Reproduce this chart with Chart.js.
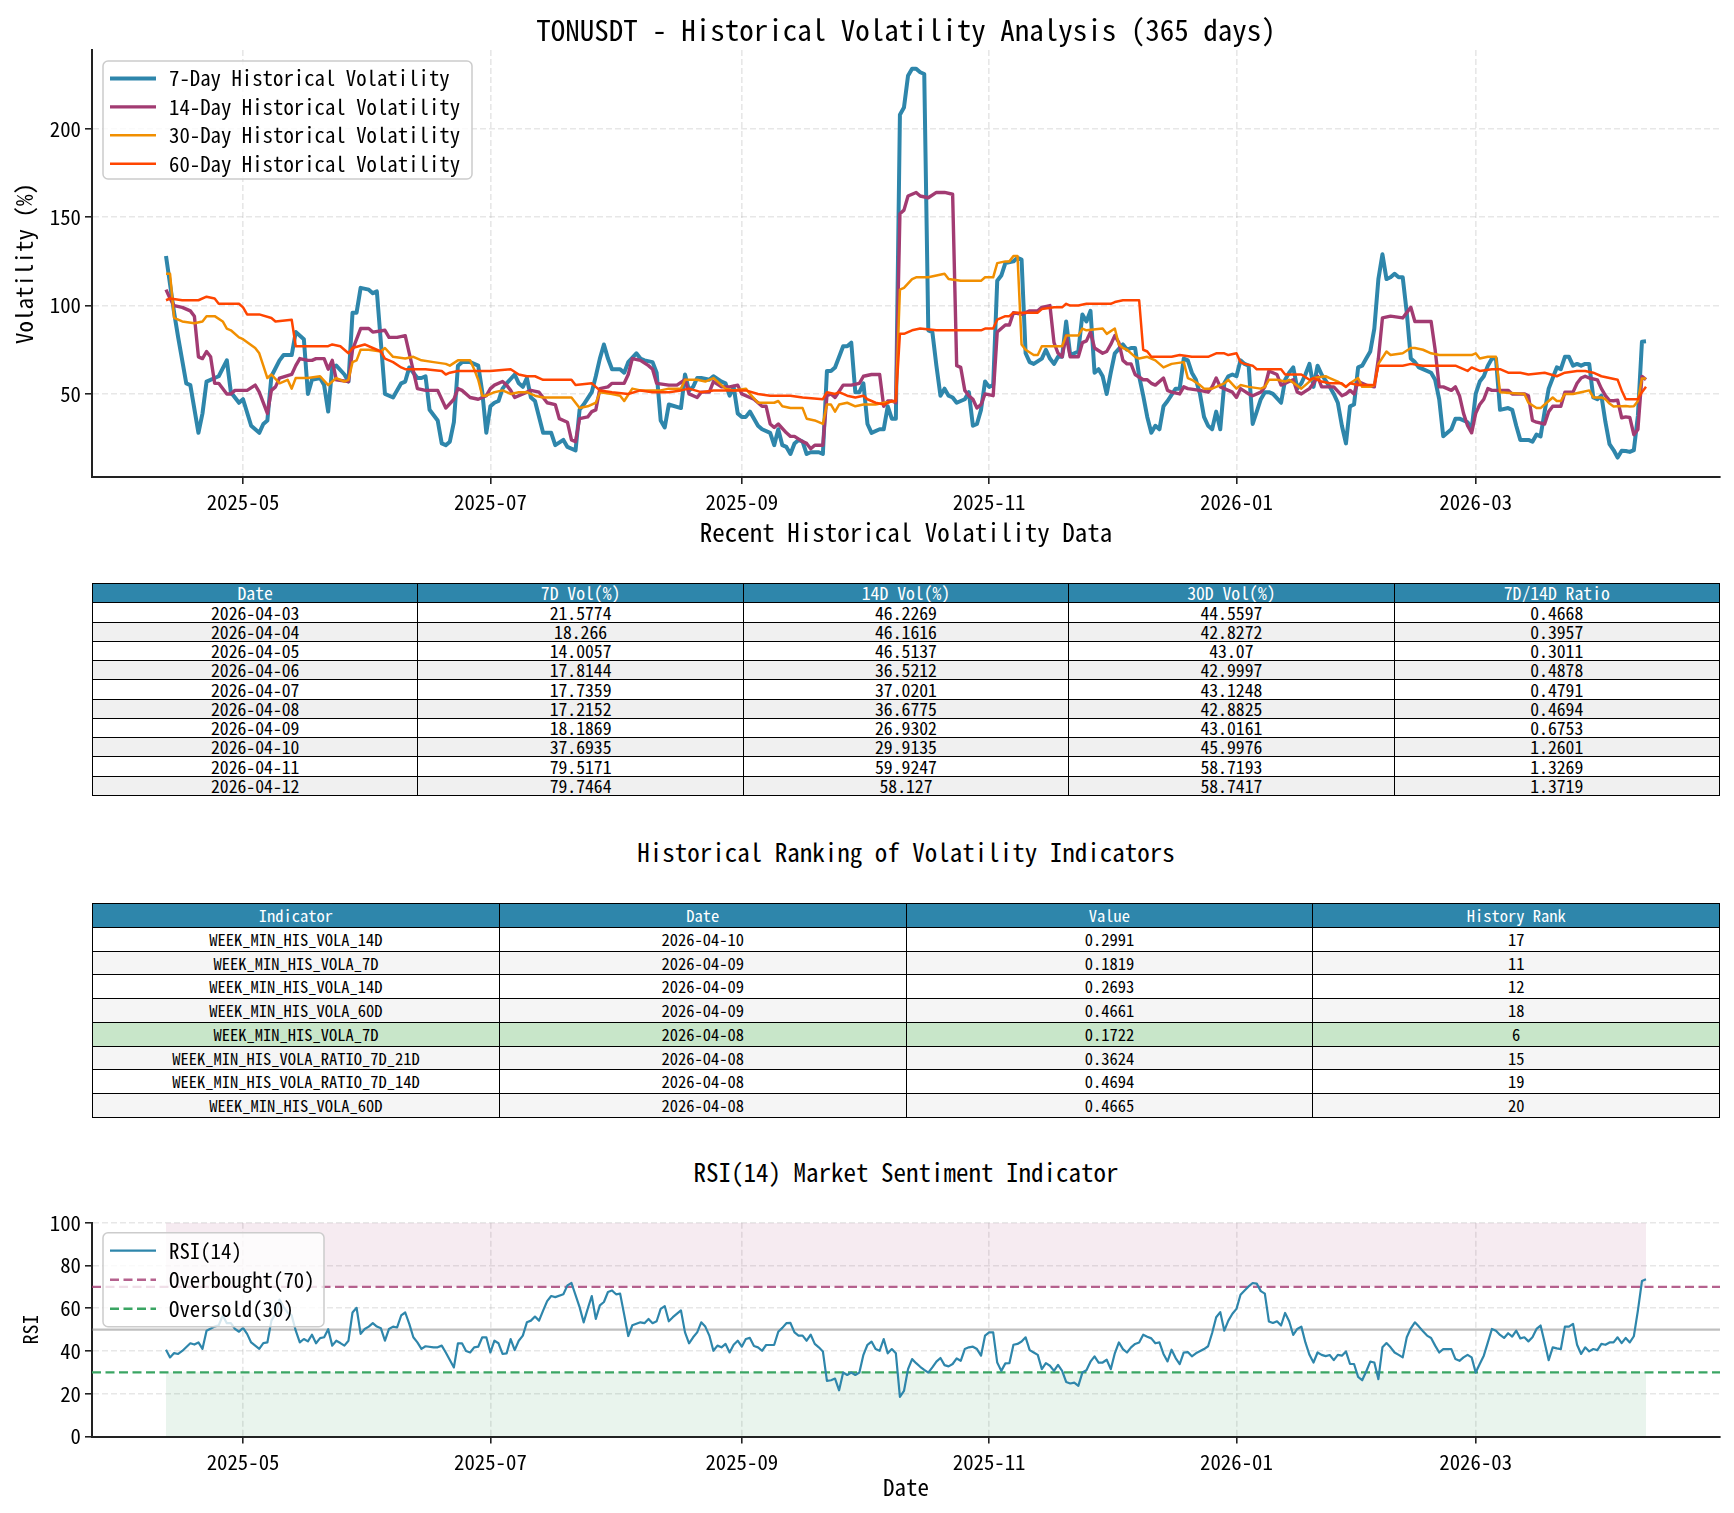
<!DOCTYPE html>
<html>
<head>
<meta charset="utf-8">
<script src="https://cdn.jsdelivr.net/npm/chart.js@4.4.1/dist/chart.umd.min.js"></script>
<style>
  html, body { margin: 0; padding: 0; background: #fff; }
  body { width: 1734px; height: 1513px; position: relative; overflow: hidden; }
  canvas { position: absolute; left: 0; }
  .ttl { position: absolute; left: 92px; width: 1628px; text-align: center; color: #000; white-space: nowrap; }
  table { position: absolute; left: 92px; width: 1628px; border-collapse: collapse; table-layout: fixed; }
  td { border: 1.5px solid #000; padding: 0; text-align: center; white-space: nowrap; overflow: hidden; line-height: 1; }
</style>
</head>
<body>
<canvas id="volChart" width="1734" height="540" style="top:0"></canvas>
<canvas id="rsiChart" width="1734" height="323" style="top:1190px"></canvas>
<div class="ttl" id="mainTitle">TONUSDT - Historical Volatility Analysis (365 days)</div>
<div class="ttl" id="recentTitle">Recent Historical Volatility Data</div>
<div class="ttl" id="rankTitle">Historical Ranking of Volatility Indicators</div>
<div class="ttl" id="rsiTitle">RSI(14) Market Sentiment Indicator</div>
<table id="recentTable"></table>
<table id="rankTable"></table>
<script>
'use strict';
// day 0 of every series below
var startDate = '2025-04-12';
var lastDay = 365;

var tickDates = ['2025-05-01', '2025-07-01', '2025-09-01', '2025-11-01', '2026-01-01', '2026-03-01'];
var tickLabels = ['2025-05', '2025-07', '2025-09', '2025-11', '2026-01', '2026-03'];
var volTicks = [50, 100, 150, 200];
var rsiTicks = [0, 20, 40, 60, 80, 100];

// [day, value]; the last ten days come from the table below
var vol7 = [[0,128],[2,96],[3,82],[5,56],[6,55],[8,28],[9,39],[10,57],[12,59],[13,60],[15,69],[16,51],[18,45],[19,47],[21,32],[23,28],[24,33],[25,35],[26,60],[28,69],[29,72],[31,72],[32,85],[34,81],[35,50],[36,58],[38,59],[39,55],[40,40],[41,65],[42,66],[44,61],[45,57],[46,96],[47,96],[48,110],[50,109],[51,107],[52,108],[53,79],[54,50],[56,48],[58,56],[59,57],[60,65],[62,59],[63,59],[64,60],[65,41],[67,35],[68,22],[69,21],[70,23],[71,34],[72,66],[73,68],[75,68],[77,66],[78,51],[79,28],[80,43],[81,45],[82,46],[83,53],[84,56],[86,61],[87,56],[88,54],[89,59],[90,48],[91,46],[93,28],[95,28],[96,21],[98,24],[99,20],[101,18],[102,41],[103,44],[105,51],[106,60],[107,70],[108,78],[109,70],[110,64],[112,64],[113,62],[114,68],[116,73],[117,70],[118,69],[120,68],[121,62],[122,35],[123,31],[124,44],[127,42],[128,61],[129,52],[130,54],[131,59],[132,59],[134,58],[135,60],[137,57],[138,56],[139,49],[140,54],[141,39],[142,37],[143,37],[144,40],[146,32],[147,30],[149,28],[150,21],[151,30],[152,21],[153,20],[154,16],[155,22],[156,24],[157,23],[158,16],[159,17],[161,17],[162,16],[163,63],[164,63],[165,65],[167,77],[168,77],[169,79],[170,51],[171,51],[172,56],[173,33],[174,28],[176,30],[177,30],[178,43],[179,36],[180,36],[181,208],[182,212],[183,230],[184,234],[185,234],[186,232],[187,231],[188,86],[189,85],[190,66],[191,49],[192,53],[193,49],[194,48],[195,45],[197,47],[198,51],[199,32],[200,33],[201,41],[202,57],[203,54],[204,55],[205,114],[206,117],[207,124],[209,125],[210,127],[211,126],[212,73],[213,68],[214,67],[216,70],[217,75],[218,70],[219,67],[220,71],[221,71],[222,91],[223,72],[224,73],[225,74],[226,95],[227,91],[228,97],[229,62],[230,64],[231,60],[232,50],[233,62],[234,73],[236,78],[237,75],[238,76],[239,76],[240,60],[241,49],[242,37],[243,28],[244,32],[245,30],[246,43],[247,46],[249,53],[250,53],[251,70],[252,69],[253,62],[254,58],[255,50],[256,37],[257,32],[258,30],[259,40],[260,30],[261,56],[262,60],[263,61],[264,60],[265,69],[266,67],[267,66],[268,33],[269,40],[270,47],[271,51],[272,51],[273,50],[275,45],[276,58],[277,62],[278,65],[279,53],[280,56],[281,61],[282,67],[283,54],[284,66],[285,61],[287,54],[288,50],[289,45],[290,32],[291,22],[292,43],[293,44],[294,65],[295,66],[296,70],[297,74],[298,87],[299,115],[300,129],[301,115],[302,116],[303,118],[304,116],[305,116],[306,96],[307,70],[308,68],[309,65],[310,64],[312,62],[313,58],[314,47],[315,26],[316,28],[317,30],[318,36],[319,36],[320,35],[321,34],[322,30],[323,50],[324,57],[325,60],[326,66],[327,70],[328,70],[329,41],[331,42],[332,41],[333,32],[334,24],[336,24],[337,23],[338,27],[339,26],[340,40],[341,53],[342,59],[343,65],[344,64],[345,71],[346,71],[347,66],[348,67],[349,66],[350,67],[351,67],[352,48],[353,47],[354,49],[355,34]];

var vol14 = [[0,109],[1,104],[2,100],[4,99],[6,97],[7,94],[8,71],[9,70],[10,74],[11,71],[12,56],[13,56],[15,50],[16,50],[17,52],[20,52],[22,55],[23,51],[25,39],[26,52],[27,54],[28,59],[31,61],[32,66],[33,70],[35,69],[36,69],[37,70],[39,70],[40,64],[41,69],[42,58],[45,57],[46,75],[48,87],[50,87],[51,85],[54,86],[55,82],[57,82],[59,83],[60,73],[62,53],[64,52],[67,52],[69,42],[71,47],[72,53],[73,52],[75,48],[77,47],[79,49],[80,53],[81,55],[83,57],[84,55],[85,52],[86,48],[88,50],[90,52],[92,51],[94,45],[96,44],[97,36],[99,34],[100,24],[101,23],[102,36],[104,37],[105,40],[106,41],[107,53],[109,54],[110,56],[113,56],[114,61],[115,70],[117,69],[119,66],[120,64],[121,56],[124,55],[126,55],[128,58],[129,50],[131,48],[132,51],[134,51],[135,57],[137,54],[139,54],[141,55],[142,50],[144,48],[145,47],[147,43],[148,43],[149,33],[150,31],[151,33],[153,28],[154,26],[155,26],[157,23],[158,22],[159,19],[160,21],[162,21],[163,49],[164,50],[165,48],[167,55],[169,55],[171,56],[172,60],[174,61],[176,61],[177,43],[178,46],[179,46],[180,45],[181,152],[182,154],[183,162],[185,164],[186,162],[188,161],[190,164],[192,164],[194,163],[195,66],[196,65],[197,52],[198,49],[199,47],[200,42],[201,44],[202,50],[204,49],[205,85],[206,87],[207,89],[208,89],[209,96],[211,95],[213,97],[215,97],[216,99],[218,100],[219,79],[220,73],[221,71],[222,83],[223,71],[225,71],[226,79],[227,80],[228,85],[229,76],[231,73],[232,74],[233,78],[234,83],[235,79],[236,69],[237,67],[238,67],[239,61],[241,58],[242,58],[243,56],[244,55],[246,59],[247,52],[248,51],[250,50],[251,54],[252,53],[255,52],[257,51],[258,54],[259,59],[260,54],[262,52],[263,51],[264,48],[265,53],[267,50],[268,49],[270,51],[271,54],[272,63],[274,61],[275,55],[277,57],[278,58],[279,51],[280,50],[282,53],[283,56],[284,60],[285,54],[288,54],[290,49],[291,50],[292,52],[293,50],[294,57],[295,56],[296,55],[298,54],[299,70],[300,93],[302,94],[305,93],[306,96],[307,99],[308,91],[312,91],[313,75],[314,54],[315,54],[317,52],[318,54],[319,49],[320,39],[321,32],[322,28],[323,39],[324,44],[325,47],[326,53],[327,52],[331,52],[332,50],[335,50],[336,49],[337,35],[338,34],[340,33],[341,40],[342,43],[344,43],[345,51],[347,51],[348,56],[349,59],[350,60],[351,59],[353,58],[354,53],[355,49]];

var vol30 = [[0,118],[1,118],[2,93],[4,91],[7,90],[9,91],[10,94],[12,94],[14,91],[15,87],[16,86],[18,82],[19,81],[22,76],[23,73],[24,66],[25,59],[26,61],[28,56],[30,58],[31,53],[32,59],[35,59],[38,60],[40,55],[41,57],[42,59],[44,57],[45,58],[46,68],[47,69],[48,75],[50,75],[53,74],[54,76],[56,71],[59,70],[61,71],[63,69],[66,68],[69,67],[70,66],[72,69],[75,69],[76,64],[77,58],[78,49],[79,49],[81,51],[83,52],[85,50],[87,51],[89,51],[91,49],[93,48],[100,48],[101,45],[102,42],[104,43],[106,45],[107,51],[110,50],[112,49],[113,46],[115,53],[117,52],[122,52],[124,53],[127,53],[128,58],[131,58],[133,57],[135,59],[137,55],[138,53],[140,52],[143,53],[144,50],[146,45],[150,45],[151,46],[152,43],[154,42],[157,42],[158,36],[160,35],[161,34],[162,33],[163,44],[164,44],[165,40],[166,44],[168,45],[170,43],[172,44],[175,44],[177,45],[180,46],[181,109],[182,110],[184,115],[185,116],[188,116],[190,117],[192,118],[193,115],[196,114],[201,114],[202,116],[204,116],[205,124],[207,125],[208,125],[209,128],[210,128],[211,78],[212,75],[214,72],[215,72],[216,77],[221,77],[222,83],[225,83],[226,87],[227,86],[231,87],[232,84],[234,87],[235,78],[236,76],[237,75],[239,71],[240,70],[242,71],[243,70],[244,69],[246,65],[247,66],[248,67],[251,68],[252,59],[253,58],[255,55],[256,53],[258,53],[260,55],[261,56],[262,58],[264,53],[265,55],[267,54],[270,53],[271,54],[272,58],[274,58],[276,57],[277,58],[280,53],[281,55],[283,59],[286,60],[287,59],[288,58],[289,57],[291,54],[292,56],[294,59],[295,54],[297,54],[298,55],[299,67],[301,74],[302,72],[305,73],[307,76],[308,76],[310,75],[312,73],[314,72],[322,72],[323,73],[324,70],[326,71],[328,71],[329,51],[335,50],[336,45],[338,42],[339,42],[340,44],[342,48],[343,46],[344,46],[345,50],[347,50],[349,51],[351,52],[352,48],[354,48],[355,47]];

var vol60 = [[0,103],[1,104],[4,103],[8,103],[10,105],[12,104],[13,101],[16,101],[18,101],[19,99],[20,95],[23,95],[26,93],[27,91],[31,92],[32,77],[35,77],[40,77],[41,78],[43,77],[45,73],[46,76],[49,78],[51,76],[53,74],[54,70],[56,68],[58,65],[59,64],[64,64],[68,63],[69,61],[70,62],[72,63],[76,63],[80,63],[85,64],[87,61],[89,60],[91,60],[93,58],[97,58],[100,58],[101,55],[105,56],[107,52],[110,51],[114,50],[117,52],[120,51],[124,51],[127,52],[129,53],[132,51],[135,52],[138,52],[143,52],[146,50],[149,49],[154,49],[157,48],[162,47],[163,51],[165,50],[166,51],[168,49],[170,48],[172,49],[173,47],[175,45],[177,44],[179,46],[180,46],[181,84],[182,84],[184,86],[186,87],[190,86],[195,86],[197,86],[201,86],[202,87],[204,87],[205,92],[207,94],[208,94],[209,96],[213,96],[215,96],[216,98],[219,99],[221,99],[222,101],[223,100],[225,100],[227,101],[233,101],[234,102],[236,103],[240,103],[241,75],[242,74],[243,71],[248,71],[250,72],[253,71],[257,71],[259,73],[261,73],[262,72],[264,73],[265,68],[266,67],[268,66],[269,64],[275,64],[276,61],[280,61],[282,58],[283,59],[285,57],[287,56],[290,56],[291,54],[292,56],[294,55],[298,55],[299,66],[305,66],[307,67],[310,66],[318,66],[319,65],[321,63],[322,65],[324,63],[327,64],[329,64],[331,62],[334,62],[336,61],[340,62],[343,60],[345,62],[348,63],[350,63],[352,62],[354,60],[356,59],[358,58],[359,52],[360,47],[363,47],[364,51],[365,54]];

var rsi14 = [[0,40.6],[1,37],[2,39],[3,38.6],[4,40],[6,43.6],[7,43],[8,44],[9,41],[10,49.5],[12,51.4],[13,52],[14,56.6],[15,53],[16,53],[17,50.3],[18,49],[19,50.8],[20,48],[21,44],[23,41],[24,43.7],[25,44],[26,54.2],[27,57.4],[28,64],[29,60.5],[30,58],[31,56.6],[32,49.5],[33,44],[34,45.6],[35,44.5],[36,47.6],[37,43.6],[38,46],[39,46.4],[40,50.2],[41,42.5],[42,44.8],[43,43.7],[44,42.5],[45,44.8],[46,58],[47,60.2],[48,48],[49,50.3],[50,51.4],[51,53],[52,51.4],[53,50.6],[54,44.8],[55,50.3],[56,51.4],[57,51],[58,56.6],[59,58],[60,52.7],[61,46.4],[62,44],[63,41],[64,42.2],[66,41.7],[67,41.7],[68,42.5],[69,39.3],[71,32.3],[72,43.6],[73,43.6],[74,40],[75,39.3],[76,41.7],[77,42],[78,46.4],[79,46.4],[80,39.3],[81,44.8],[82,43.6],[83,38.6],[84,38.9],[85,45.6],[86,40.4],[87,44.8],[88,47.2],[89,53.4],[90,54.2],[91,56.1],[92,54.2],[93,58.9],[94,63.3],[95,65.7],[96,65.2],[98,66.5],[99,70.7],[100,71.8],[102,60.5],[103,53.4],[104,59.7],[105,65.7],[106,55],[107,61.3],[108,62.9],[109,67.6],[110,68.3],[111,66.5],[112,66.8],[113,57],[114,47],[115,52],[117,53.4],[118,53],[119,55],[120,53],[121,53.9],[122,59.7],[123,61],[124,53.9],[125,55.8],[127,59],[128,48.7],[129,43.6],[130,46.4],[131,48.7],[132,53.4],[133,51.4],[134,47.2],[135,40.1],[136,42.5],[137,41.7],[138,43.3],[139,39.3],[140,42.9],[141,44.8],[142,42],[143,45.6],[144,46.1],[145,42.3],[146,41.7],[147,40.1],[148,42.8],[149,42.8],[150,42.9],[151,49],[152,50.8],[153,53],[154,53.1],[155,48.7],[156,47.2],[157,47.2],[158,44.8],[159,47.6],[160,43.3],[161,41.7],[162,39.8],[163,26],[164,26.3],[165,27.1],[166,21.6],[167,29.9],[168,28.8],[169,29.9],[170,28.8],[171,29.9],[172,38.2],[173,42.9],[174,44.4],[175,40.9],[176,40.1],[177,45.6],[178,38.9],[179,40.9],[180,38.9],[181,18.5],[182,21.3],[183,31.5],[184,36.2],[185,34.3],[186,32.6],[187,31.2],[188,29.9],[189,32.3],[190,35],[191,36.7],[192,33.4],[193,32.8],[194,33.9],[195,36.5],[196,35.4],[197,40.9],[198,41.7],[199,42],[200,40.9],[201,37.8],[202,47.2],[203,48.7],[204,48.7],[205,34.6],[206,30.7],[207,34.2],[208,34.3],[209,42.9],[210,43.3],[211,44.4],[212,46.4],[213,40.4],[214,39.3],[215,38.2],[216,31.5],[217,34.3],[218,33.1],[219,30.7],[220,33.5],[221,30.7],[222,25.5],[223,24.8],[224,25.2],[225,23.7],[226,29.9],[227,31],[228,35],[229,37.5],[230,34.6],[231,34.6],[232,35.9],[233,31.5],[234,38.9],[235,44],[236,40.9],[237,39.3],[238,41.7],[239,43.3],[240,44],[241,47.6],[242,46.7],[243,45.9],[244,43.6],[245,44],[246,38.6],[247,35.1],[248,40.6],[249,36.7],[250,33.9],[251,39.3],[252,39.5],[253,37.5],[254,38.9],[256,40.9],[257,42.2],[258,48.4],[259,55.8],[260,58.2],[261,49.5],[262,54.2],[263,57.4],[264,59.7],[265,66.3],[266,68.3],[267,70.2],[268,71.8],[269,71.5],[270,68],[271,66.8],[272,53.8],[273,53.1],[274,53.9],[275,51.9],[276,57.8],[277,53.9],[278,47.5],[279,50.3],[280,51.4],[281,44],[282,38.2],[283,34.6],[284,39.3],[285,38.2],[286,37.6],[287,38.1],[288,35.7],[289,38.2],[290,37.8],[291,39.8],[292,33.9],[293,33.9],[294,27.9],[295,26.3],[296,30.4],[297,35],[298,34.6],[299,26.8],[300,41.7],[301,43.7],[302,41.7],[303,39.3],[304,38.2],[305,37],[306,46.4],[307,50.6],[308,53.4],[309,51.4],[310,49.2],[311,47.2],[312,46.1],[313,42.5],[314,39.3],[315,40.9],[316,40.9],[317,40.9],[318,36.2],[319,35.4],[320,37],[321,38.2],[322,37],[323,29.9],[324,33.9],[325,37.8],[326,44],[327,50.3],[328,49.5],[329,47.5],[330,46.1],[331,48.3],[332,46.7],[333,49.5],[334,45.9],[335,46.4],[336,44.5],[337,46.4],[338,50.3],[339,51.9],[340,44],[341,35.7],[342,41.7],[343,41.2],[344,40.9],[345,51.4],[346,51.4],[347,52.7],[348,42.9],[349,38.6],[350,41.7],[351,39.8],[352,40.9],[353,40.4],[354,43.3],[355,42.9],[356,44],[357,44],[358,46.4],[359,43.7],[360,46.1],[361,44],[362,46.9],[363,58.9],[364,72.7],[365,73.5]];

// table 1
var recentHeader = ['Date', '7D Vol(%)', '14D Vol(%)', '30D Vol(%)', '7D/14D Ratio'];
var recentDates = ['2026-04-03', '2026-04-04', '2026-04-05', '2026-04-06', '2026-04-07', '2026-04-08', '2026-04-09', '2026-04-10', '2026-04-11', '2026-04-12'];
var recent7 = [21.5774, 18.266, 14.0057, 17.8144, 17.7359, 17.2152, 18.1869, 37.6935, 79.5171, 79.7464];
var recent14 = [46.2269, 46.1616, 46.5137, 36.5212, 37.0201, 36.6775, 26.9302, 29.9135, 59.9247, 58.127];
var recent30 = [44.5597, 42.8272, 43.07, 42.9997, 43.1248, 42.8825, 43.0161, 45.9976, 58.7193, 58.7417];
var recentRatio = [0.4668, 0.3957, 0.3011, 0.4878, 0.4791, 0.4694, 0.6753, 1.2601, 1.3269, 1.3719];

// table 2
var rankHeader = ['Indicator', 'Date', 'Value', 'History Rank'];
var rankNames = ['WEEK_MIN_HIS_VOLA_14D', 'WEEK_MIN_HIS_VOLA_7D', 'WEEK_MIN_HIS_VOLA_14D', 'WEEK_MIN_HIS_VOLA_60D', 'WEEK_MIN_HIS_VOLA_7D', 'WEEK_MIN_HIS_VOLA_RATIO_7D_21D', 'WEEK_MIN_HIS_VOLA_RATIO_7D_14D', 'WEEK_MIN_HIS_VOLA_60D'];
var rankDates = ['2026-04-10', '2026-04-09', '2026-04-09', '2026-04-09', '2026-04-08', '2026-04-08', '2026-04-08', '2026-04-08'];
var rankValues = [0.2991, 0.1819, 0.2693, 0.4661, 0.1722, 0.3624, 0.4694, 0.4665];
var rankPlaces = [17, 11, 12, 18, 6, 15, 19, 20];
var rankHighlight = 4;

var overbought = 70;
var oversold = 30;
var midline = 50;

// ---------------------------------------------------------------
function dayOf(s) {
  var p = s.split('-'), q = startDate.split('-');
  return Math.round((Date.UTC(+p[0], p[1] - 1, +p[2]) - Date.UTC(+q[0], q[1] - 1, +q[2])) / 86400000);
}
recentDates.forEach(function (d, k) {
  vol7.push([dayOf(d), recent7[k]]);
  vol14.push([dayOf(d), recent14[k]]);
  vol30.push([dayOf(d), recent30[k]]);
});
var tickDays = tickDates.map(dayOf);
var X_MIN = -0.05 * lastDay, X_MAX = lastDay * 1.05;

function pts(a) { return a.map(function (p) { return {x: p[0], y: p[1]}; }); }

// font: half width latin like SimHei; fall back to DejaVu Sans Mono
function hasFont(name) {
  var c = document.createElement('canvas').getContext('2d');
  var s = 'iiiiWWWWmmmm';
  c.font = '40px monospace'; var a = c.measureText(s).width;
  c.font = '40px serif'; var b = c.measureText(s).width;
  c.font = '40px "' + name + '", monospace'; var a2 = c.measureText(s).width;
  c.font = '40px "' + name + '", serif'; var b2 = c.measureText(s).width;
  return a !== a2 || b !== b2;
}
var cjkMono = ['Noto Sans Mono CJK SC', 'Noto Sans Mono CJK JP', 'Noto Sans Mono CJK TC', 'Noto Sans Mono CJK KR'].find(hasFont);
var FONT = cjkMono ? '"' + cjkMono + '"' : '"DejaVu Sans Mono"';
var K = cjkMono ? 1 : 0.83;
function fs(n) { return n * K; }

Chart.defaults.font.family = FONT;
Chart.defaults.color = '#000';

// titles
function placeTitle(id, cy, size) {
  var el = document.getElementById(id);
  el.style.fontFamily = FONT;
  el.style.fontSize = fs(size) + 'px';
  el.style.lineHeight = (size * 1.2) + 'px';
  el.style.top = (cy - size * 0.6) + 'px';
}
placeTitle('mainTitle', 28, 29);
placeTitle('recentTitle', 531, 25);
placeTitle('rankTitle', 851, 25);
placeTitle('rsiTitle', 1171, 25);

// tables
function makeTable(id, top, height, header, rows, size, bgFor) {
  var t = document.getElementById(id);
  var rowH = height / (rows.length + 1);
  t.style.top = top + 'px';
  t.style.height = height + 'px';
  t.style.fontFamily = FONT;
  t.style.fontSize = fs(size) + 'px';
  var html = '';
  [header].concat(rows).forEach(function (r, k) {
    var bg = k === 0 ? '#2E86AB' : bgFor(k - 1);
    var fg = k === 0 ? '#fff' : '#000';
    html += '<tr style="height:' + rowH + 'px;background:' + bg + ';color:' + fg + '">' +
      r.map(function (c) { return '<td>' + c + '</td>'; }).join('') + '</tr>';
  });
  t.innerHTML = html;
}
makeTable('recentTable', 583, 212, recentHeader,
  recentDates.map(function (d, k) { return [d, recent7[k], recent14[k], recent30[k], recentRatio[k]]; }),
  17.7, function (k) { return k % 2 ? '#f0f0f0' : '#ffffff'; });
makeTable('rankTable', 903, 214, rankHeader,
  rankNames.map(function (n, k) { return [n, rankDates[k], rankValues[k], rankPlaces[k]]; }),
  16.5, function (k) { return k === rankHighlight ? '#c8e6c9' : (k % 2 ? '#f5f5f5' : '#ffffff'); });

// legend drawn inside the plot area, matplotlib style
var boxLegend = {
  id: 'boxLegend',
  afterDraw: function (chart, args, o) {
    var ctx = chart.ctx, a = chart.chartArea;
    var x = a.left + o.x, y = a.top + o.y;
    ctx.save();
    ctx.fillStyle = 'rgba(255,255,255,0.8)';
    ctx.strokeStyle = '#cccccc';
    ctx.lineWidth = 1.5;
    ctx.beginPath();
    ctx.roundRect(x, y, o.w, o.h, 5);
    ctx.fill();
    ctx.stroke();
    var k = 0;
    chart.data.datasets.forEach(function (ds) {
      if (!ds.inLegend) return;
      var cy = y + o.first + k * o.step;
      ctx.strokeStyle = ds.borderColor;
      ctx.lineWidth = ds.borderWidth;
      ctx.setLineDash(ds.borderDash || []);
      ctx.beginPath();
      ctx.moveTo(x + 7, cy);
      ctx.lineTo(x + 53, cy);
      ctx.stroke();
      ctx.setLineDash([]);
      ctx.fillStyle = '#000';
      ctx.font = fs(20.8) + 'px ' + FONT;
      ctx.textBaseline = 'middle';
      ctx.fillText(ds.label, x + 66, cy);
      k++;
    });
    ctx.restore();
  }
};

function xScale(height, withTitle) {
  return {
    type: 'linear', min: X_MIN, max: X_MAX,
    afterBuildTicks: function (s) { s.ticks = tickDays.map(function (v) { return {value: v}; }); },
    afterFit: function (s) { s.height = height; },
    ticks: {
      autoSkip: false, maxRotation: 0, padding: 6, font: {size: fs(20.8)},
      callback: function (v) { var i = tickDays.indexOf(v); return i < 0 ? '' : tickLabels[i]; }
    },
    grid: {color: 'rgba(176,176,176,0.3)', lineWidth: 1.6, tickLength: 7, tickColor: '#222', tickWidth: 1.6},
    border: {display: true, color: '#222', width: 2, dash: [6, 3]},
    title: withTitle ? {display: true, text: 'Date', font: {size: fs(23)}, padding: {top: 0, bottom: 12}} : {display: false}
  };
}
function yScale(min, max, ticks, title, titleSize, titlePad) {
  return {
    min: min, max: max,
    afterBuildTicks: function (s) { s.ticks = ticks.map(function (v) { return {value: v}; }); },
    afterFit: function (s) { s.width = 92; },
    ticks: {padding: 4, font: {size: fs(20.8)}},
    grid: {color: 'rgba(176,176,176,0.3)', lineWidth: 1.6, tickLength: 7, tickColor: '#222', tickWidth: 1.6},
    border: {display: true, color: '#222', width: 2, dash: [6, 3]},
    title: {display: true, text: title, font: {size: fs(titleSize)}, padding: {top: titlePad, bottom: 0}}
  };
}

function line(label, data, color, width, order, extra) {
  var ds = {label: label, data: pts(data), borderColor: color, borderWidth: width, pointRadius: 0,
    tension: 0, fill: false, borderJoinStyle: 'round', order: order, inLegend: true};
  return Object.assign(ds, extra || {});
}

new Chart(document.getElementById('volChart'), {
  type: 'line',
  data: {
    datasets: [
      line('7-Day Historical Volatility', vol7, '#2E86AB', 4, 4),
      line('14-Day Historical Volatility', vol14, '#A23B72', 3.4, 3),
      line('30-Day Historical Volatility', vol30, '#F18F01', 2.5, 2),
      line('60-Day Historical Volatility', vol60, '#FF4500', 2.5, 1)
    ]
  },
  options: {
    responsive: false, animation: false, events: [],
    layout: {padding: {top: 50, right: 14, left: 0, bottom: 0}},
    plugins: {
      legend: {display: false}, tooltip: {enabled: false},
      boxLegend: {x: 11, y: 11, w: 369, h: 118, first: 17.5, step: 28.4}
    },
    scales: {
      x: xScale(63, false),
      y: yScale(3, 244.6, volTicks, 'Volatility (%)', 23, 10.5)
    }
  },
  plugins: [boxLegend]
});

function flat(y) { return [[X_MIN, y], [X_MAX, y]]; }
function zone(top) { return [[0, top], [lastDay, top]]; }

new Chart(document.getElementById('rsiChart'), {
  type: 'line',
  data: {
    datasets: [
      line('RSI(14)', rsi14, '#2E86AB', 2.2, 1),
      line('Overbought(70)', flat(overbought), 'rgba(162,59,114,0.8)', 2.4, 2, {borderDash: [9, 4.5]}),
      line('Oversold(30)', flat(oversold), '#3aa563', 2.4, 3, {borderDash: [9, 4.5]}),
      line('mid', flat(midline), 'rgba(128,128,128,0.5)', 2.4, 4, {inLegend: false}),
      line('ob zone', zone(100), 'rgba(0,0,0,0)', 0, 6, {inLegend: false, fill: {value: overbought}, backgroundColor: 'rgba(162,59,114,0.1)'}),
      line('os zone', zone(oversold), 'rgba(0,0,0,0)', 0, 5, {inLegend: false, fill: {value: 0}, backgroundColor: 'rgba(40,150,80,0.1)'})
    ]
  },
  options: {
    responsive: false, animation: false, events: [],
    layout: {padding: {top: 32.7, right: 14, left: 0, bottom: 0}},
    plugins: {
      legend: {display: false}, tooltip: {enabled: false},
      boxLegend: {x: 11, y: 10, w: 221, h: 94, first: 18, step: 29}
    },
    scales: {
      x: xScale(76.5, true),
      y: yScale(0, 100, rsiTicks, 'RSI', 20, 18)
    }
  },
  plugins: [boxLegend]
});
</script>
</body>
</html>
